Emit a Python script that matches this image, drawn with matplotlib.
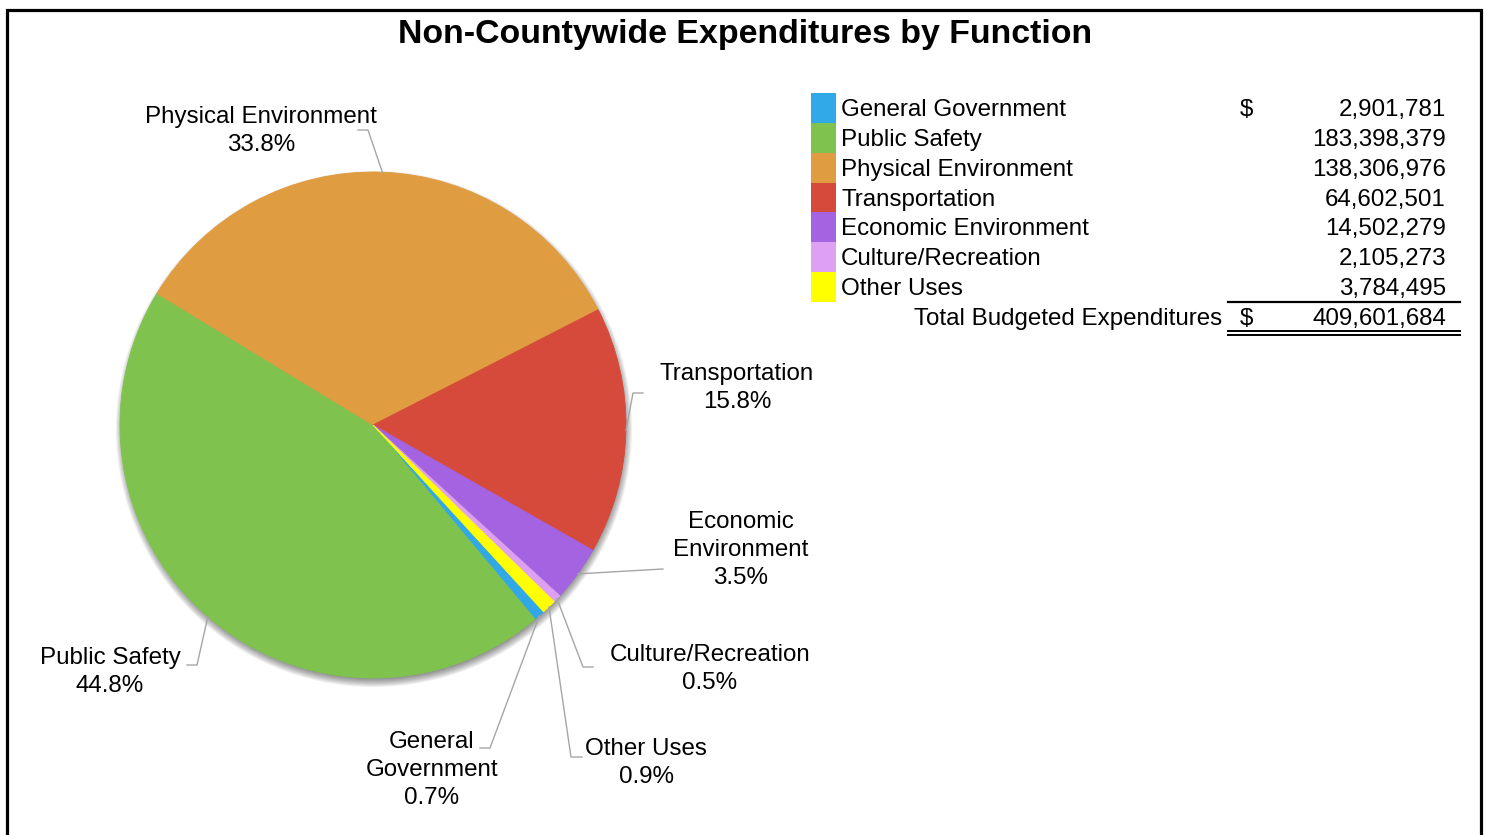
import matplotlib.pyplot as plt
import numpy as np
from matplotlib.patches import Circle, Rectangle

# budget by function (dollars), in legend order
categories = ["General Government", "Public Safety", "Physical Environment",
              "Transportation", "Economic Environment", "Culture/Recreation",
              "Other Uses"]
amounts = [2901781, 183398379, 138306976, 64602501, 14502279, 2105273, 3784495]
colors = ["#31A9E8", "#7FC34E", "#E09C40", "#D64A3B", "#A463E0", "#DDA0F2", "#FFFF00"]
title = "Non-Countywide Expenditures by Function"
total_label = "Total Budgeted Expenditures"

W, H = 1487, 835
plt.rcParams['font.family'] = ['Liberation Sans', 'DejaVu Sans']
FS = 17.4


def py(y):
    # pixel rows run top-down, axes run bottom-up
    return H - y


fig = plt.figure(figsize=(W / 100, H / 100), dpi=100)
ax = fig.add_axes([0, 0, 1, 1])

cx, cy, r = 373, py(425), 253
total = sum(amounts)

# soft drop shadow under the pie, cast downward
for k in range(10):
    ax.add_patch(Circle((cx + 1, cy - 4), r - 3 + k * 0.9, color='black',
                        alpha=0.05, lw=0, zorder=1))

wedges, _ = ax.pie(amounts, colors=colors, startangle=-47.6, counterclock=False,
                   center=(cx, cy), radius=r, wedgeprops=dict(linewidth=0.6))
for w in wedges:
    w.set_edgecolor(w.get_facecolor())
    w.set_zorder(2)

# label block centre, leader elbow, leader end (pixels)
label_layout = {
    "General Government": ((432, 770), (490, 748), (480, 748)),
    "Public Safety": ((110, 672), (197, 665), (187, 665)),
    "Physical Environment": ((261, 131), (368, 130), (358, 130)),
    "Transportation": ((737, 388), (633, 393), (643, 393)),
    "Economic Environment": ((741, 550), (663, 569), (663, 569)),
    "Culture/Recreation": ((710, 669), (583, 667), (593, 667)),
    "Other Uses": ((646, 763), (571, 757), (582, 757)),
}
wrapped = {"General Government", "Economic Environment"}

for w, name, amt in zip(wedges, categories, amounts):
    mid = np.deg2rad((w.theta1 + w.theta2) / 2)
    x0, y0 = cx + r * np.cos(mid), cy + r * np.sin(mid)
    (tx, ty), (ex, ey), (lx, ly) = label_layout[name]
    ax.plot([x0, ex, lx], [y0, py(ey), py(ly)], color='#A6A6A6', lw=1.0, zorder=3)
    text = name.replace(" ", "\n") if name in wrapped else name
    ax.text(tx, py(ty), f"{text}\n{amt / total:.1%}", ha='center', va='center',
            fontsize=FS, linespacing=1.33, zorder=4)

# amounts table with colour keys
row_h = 29.86
for i, (name, amt, c) in enumerate(zip(categories, amounts, colors)):
    top = 93 + row_h * i
    ax.add_patch(Rectangle((811, py(top + row_h)), 25, row_h, color=c, lw=0))
    yc = py(top + row_h / 2 + 2)
    ax.text(841, yc, name, ha='left', va='center', fontsize=FS)
    if i == 0:
        ax.text(1246, yc, "$", ha='center', va='center', fontsize=FS)
    ax.text(1446, yc, f"{amt:,}", ha='right', va='center', fontsize=FS)

ty = py(319)
ax.text(1222, ty, total_label, ha='right', va='center', fontsize=FS)
ax.text(1246, ty, "$", ha='center', va='center', fontsize=FS)
ax.text(1446, ty, f"{total:,}", ha='right', va='center', fontsize=FS)
ax.plot([1228, 1460], [py(302), py(302)], color='black', lw=1.6)
for yy in (331, 335):
    ax.plot([1228, 1460], [py(yy), py(yy)], color='black', lw=1.4)

ax.text(745, py(34), title, ha='center', va='center', fontsize=24.4,
        fontweight='bold')

# chart frame
ax.plot([7, 7, 1481, 1481], [py(H + 5), py(10), py(10), py(H + 5)],
        color='black', lw=2.3, clip_on=False, solid_joinstyle='miter')

ax.set_xlim(0, W)
ax.set_ylim(0, H)
ax.set_aspect('equal')
ax.axis('off')

fig.savefig("out.png", dpi=100)
